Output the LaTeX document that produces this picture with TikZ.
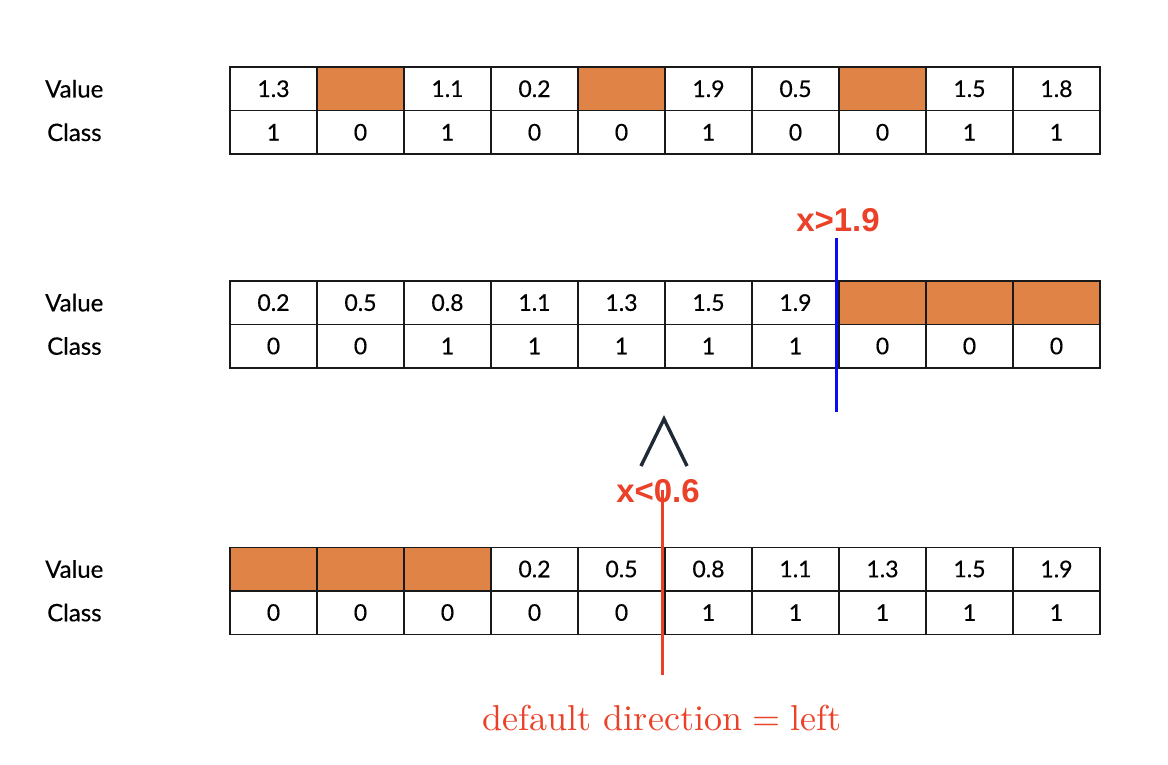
\documentclass[tikz,border=0pt]{standalone}
\usepackage{fontspec}
\newfontfamily\cellfont{Lato}[FakeBold=0.4]
\newfontfamily\markfont{Liberation Sans}
\definecolor{cellorange}{HTML}{DF8446}
\definecolor{markred}{HTML}{EA4128}
\definecolor{wedgecol}{HTML}{1F2A36}
\definecolor{splitblue}{HTML}{0A0AF5}
\begin{document}
\begin{tikzpicture}[x=1pt,y=-1pt,
  cell/.style={draw=black!90, line width=1.5pt, minimum width=87pt, minimum height=43.5pt,
    inner sep=0pt, font=\cellfont\fontsize{23}{26}\selectfont},
  hot/.style={cell, fill=cellorange},
  rowlab/.style={anchor=west, inner sep=0pt, font=\cellfont\fontsize{24}{26}\selectfont},
  marklab/.style={anchor=base, inner sep=0pt, text=markred, font=\markfont\bfseries\fontsize{33}{36}\selectfont},
  splitline/.style={line width=3pt}]
\useasboundingbox (0,0) rectangle (1168,764);
% table 1
\node[rowlab] (ta-lv) at (45,88.75) {Value};
\node[rowlab] (ta-lc) at (47,132.25) {Class};
\foreach \s/\t [count=\i] in {cell/1.3,hot/{},cell/1.1,cell/0.2,hot/{},cell/1.9,cell/0.5,hot/{},cell/1.5,cell/1.8}
  \node[\s] (ta-v\i) at ({230+87*(\i-0.5)},88.75) {\t};
\foreach \t [count=\i] in {1,0,1,0,0,1,0,0,1,1}
  \node[cell] (ta-c\i) at ({230+87*(\i-0.5)},132.25) {\t};
% table 2
\node[rowlab] (tb-lv) at (45,302.6) {Value};
\node[rowlab] (tb-lc) at (47,346) {Class};
\foreach \s/\t [count=\i] in {cell/0.2,cell/0.5,cell/0.8,cell/1.1,cell/1.3,cell/1.5,cell/1.9,hot/{},hot/{},hot/{}}
  \node[\s] (tb-v\i) at ({230+87*(\i-0.5)},302.6) {\t};
\foreach \t [count=\i] in {0,0,1,1,1,1,1,0,0,0}
  \node[cell] (tb-c\i) at ({230+87*(\i-0.5)},346) {\t};
% table 3
\node[rowlab] (tc-lv) at (45,569) {Value};
\node[rowlab] (tc-lc) at (47,612.5) {Class};
\foreach \s/\t [count=\i] in {hot/{},hot/{},hot/{},cell/0.2,cell/0.5,cell/0.8,cell/1.1,cell/1.3,cell/1.5,cell/1.9}
  \node[\s] (tc-v\i) at ({230+87*(\i-0.5)},569) {\t};
\foreach \t [count=\i] in {0,0,0,0,0,1,1,1,1,1}
  \node[cell] (tc-c\i) at ({230+87*(\i-0.5)},612.5) {\t};
% blue split
\node[marklab] (gt) at (838,231.7) {x>1.9};
\coordinate (b1) at (836.5,238);
\coordinate (b2) at (836.5,412);
\draw[splitline, draw=splitblue] (b1) -- (b2);
% wedge
\coordinate (w1) at (641,466);
\coordinate (w2) at (664,419);
\coordinate (w3) at (687,466);
\draw[line width=3.4pt, draw=wedgecol] (w1) -- (w2) -- (w3);
% red split
\coordinate (r1) at (662.5,490);
\coordinate (r2) at (662.5,675);
\draw[splitline, draw=markred] (r1) -- (r2);
\node[marklab] (lt) at (658,502) {x<0.6};
\node[anchor=base, inner sep=0pt, text=markred] (dd) at (662,730)
  {\scalebox{3.6}{$\mbox{default direction} = \mbox{left}$}};
\end{tikzpicture}
\end{document}
